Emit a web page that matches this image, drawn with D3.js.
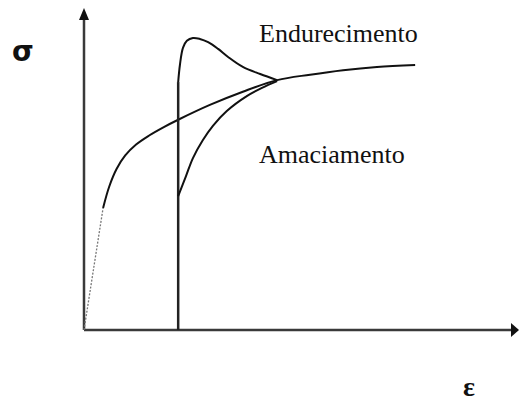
<!DOCTYPE html>
<html><head><meta charset="utf-8">
<script src="https://cdn.jsdelivr.net/npm/d3@7"></script>
<style>html,body{margin:0;padding:0;background:#fff;}svg{display:block;}</style>
</head><body>
<script>
// strain / stress in arbitrary units
const elasticX = [0, 0.44];
const elasticY = [0, 3.79];
const baseX = [0.44, 0.58, 0.75, 0.95, 1.20, 1.50, 1.85, 2.17, 2.90, 3.66, 4.45, 5.21, 5.97, 6.75, 7.63];
const baseY = [3.79, 4.45, 5.00, 5.42, 5.76, 6.04, 6.31, 6.53, 6.99, 7.40, 7.76, 7.93, 8.07, 8.17, 8.23];
const jumpX = [2.17, 2.17];
const jumpY = [0, 7.70];
const hardX = [2.17, 2.21, 2.28, 2.37, 2.51, 2.67, 2.86, 3.09, 3.32, 3.66, 4.06, 4.45];
const hardY = [7.70, 8.23, 8.76, 8.98, 9.07, 9.04, 8.94, 8.73, 8.48, 8.17, 7.95, 7.76];
const softX = [2.17, 2.35, 2.51, 2.74, 2.97, 3.29, 3.76, 4.10, 4.45];
const softY = [4.16, 4.78, 5.34, 5.90, 6.34, 6.80, 7.27, 7.52, 7.73];
const labels = ["Endurecimento", "Amaciamento"];
const axisLabels = ["σ", "ε"];

const W = 520, H = 403;
const x = d3.scaleLinear().domain([0, 10]).range([84, 518]);
const y = d3.scaleLinear().domain([0, 10]).range([330, 8]);

const svg = d3.select("body").append("svg").attr("width", W).attr("height", H);

// axes
const axCol = "#3a3a3a";
svg.append("line").attr("x1", x(0)).attr("y1", y(0)).attr("x2", x(0)).attr("y2", y(10) + 10)
  .attr("stroke", axCol).attr("stroke-width", 2.5);
svg.append("line").attr("x1", x(0)).attr("y1", y(0)).attr("x2", x(10) - 6).attr("y2", y(0))
  .attr("stroke", axCol).attr("stroke-width", 2.5);
svg.append("path").attr("d", `M${x(0)},${y(10)} L${x(0)-5},${y(10)+12} L${x(0)+5},${y(10)+12}Z`).attr("fill", "#111");
svg.append("path").attr("d", `M${x(10)+1},${y(0)} L${x(10)-7},${y(0)-7} L${x(10)-7},${y(0)+7}Z`).attr("fill", "#111");

const line = d3.line().x(d => x(d[0])).y(d => y(d[1])).curve(d3.curveCatmullRom.alpha(0.5));
const zip = (a, b) => a.map((v, i) => [v, b[i]]);

svg.append("path").attr("d", d3.line().x(d => x(d[0])).y(d => y(d[1]))(zip(elasticX, elasticY)))
  .attr("fill", "none").attr("stroke", "#777").attr("stroke-width", 1.3).attr("stroke-dasharray", "2,1.5");
svg.append("path").attr("d", line(zip(baseX, baseY))).attr("fill", "none").attr("stroke", "#111").attr("stroke-width", 2);
svg.append("path").attr("d", d3.line().x(d => x(d[0])).y(d => y(d[1]))(zip(jumpX, jumpY)))
  .attr("fill", "none").attr("stroke", "#222").attr("stroke-width", 2.5);
svg.append("path").attr("d", line(zip(hardX, hardY))).attr("fill", "none").attr("stroke", "#111").attr("stroke-width", 2);
svg.append("path").attr("d", line(zip(softX, softY))).attr("fill", "none").attr("stroke", "#111").attr("stroke-width", 2);

svg.append("text").attr("x", 259).attr("y", 42).text(labels[0])
  .attr("font-family", "'Liberation Serif', 'Times New Roman', serif").attr("font-size", 26).attr("fill", "#111");
svg.append("text").attr("x", 259).attr("y", 163).text(labels[1])
  .attr("font-family", "'Liberation Serif', 'Times New Roman', serif").attr("font-size", 26).attr("fill", "#111");

svg.append("text").attr("x", 12).attr("y", 61).text(axisLabels[0])
  .attr("font-family", "'DejaVu Sans', sans-serif").attr("font-weight", "bold").attr("font-size", 28).attr("fill", "#111");
svg.append("text").attr("x", 463).attr("y", 396).text(axisLabels[1])
  .attr("font-family", "'Liberation Serif', serif").attr("font-weight", "bold").attr("font-size", 28).attr("fill", "#111");
</script>
</body></html>
